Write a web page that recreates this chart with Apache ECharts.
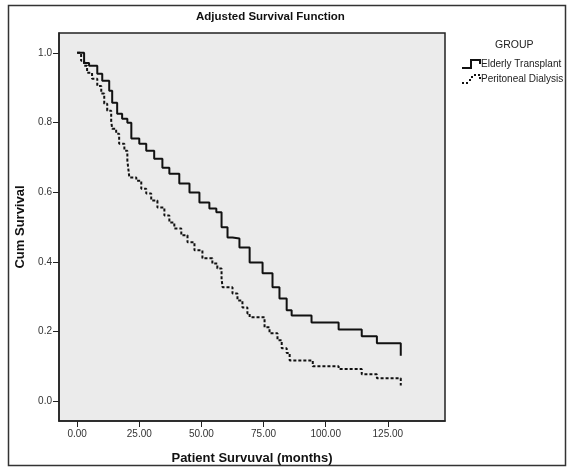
<!DOCTYPE html>
<html>
<head>
<meta charset="utf-8">
<script src="https://cdn.jsdelivr.net/npm/echarts@6/dist/echarts.min.js"></script>
<style>
  html, body { margin: 0; padding: 0; background: #fff; }
  #main { width: 571px; height: 471px; }
</style>
</head>
<body>
<div id="main"></div>
<script>
// Adjusted survival
var elderlyMonths = [0, 2.8, 4.8, 8.1, 10.1, 12.9, 14.1, 16.1, 18.1, 20.2, 21.8, 25.0, 27.8, 31.0, 34.3, 37.1, 41.1, 45.2, 49.2, 53.2, 56.0, 58.1, 60.5, 62.5, 65.3, 69.4, 74.6, 78.6, 81.4, 84.3, 86.3, 94.3, 105.2, 114.5, 120.6, 130.2, 130.2];
var elderlySurv = [1.0, 0.971, 0.963, 0.940, 0.920, 0.891, 0.857, 0.825, 0.811, 0.799, 0.754, 0.739, 0.719, 0.696, 0.670, 0.653, 0.625, 0.599, 0.570, 0.553, 0.542, 0.499, 0.470, 0.467, 0.441, 0.398, 0.367, 0.327, 0.295, 0.261, 0.246, 0.226, 0.206, 0.186, 0.166, 0.166, 0.130];

var dialysisMonths = [0, 1.6, 2.8, 4.0, 6.0, 8.1, 9.7, 10.9, 12.1, 13.7, 14.1, 15.7, 16.9, 19.0, 20.2, 21.0, 23.8, 25.8, 27.8, 29.8, 32.3, 35.1, 37.1, 39.1, 41.9, 44.4, 47.2, 50.4, 54.4, 56.4, 58.1, 58.5, 62.5, 64.5, 66.5, 68.5, 69.4, 75.4, 77.4, 80.6, 82.3, 84.3, 85.5, 94.8, 105.2, 114.5, 120.6, 130.2, 130.2];
var dialysisSurv = [1.0, 0.977, 0.963, 0.943, 0.926, 0.905, 0.883, 0.854, 0.834, 0.805, 0.782, 0.768, 0.739, 0.719, 0.691, 0.642, 0.633, 0.610, 0.596, 0.576, 0.556, 0.533, 0.513, 0.496, 0.476, 0.456, 0.433, 0.410, 0.395, 0.381, 0.352, 0.327, 0.309, 0.289, 0.269, 0.252, 0.241, 0.212, 0.195, 0.175, 0.152, 0.138, 0.117, 0.100, 0.092, 0.077, 0.066, 0.063, 0.045];

var xTicks = [0, 25, 50, 75, 100, 125];
var yTicks = [0, 0.2, 0.4, 0.6, 0.8, 1.0];
var groupNames = ['Elderly Transplant', 'Peritoneal Dialysis'];

function zip(xs, ys) {
  var out = [];
  for (var i = 0; i < xs.length; i++) out.push([xs[i], ys[i]]);
  return out;
}

var myChart = echarts.init(document.getElementById('main'));

var option = {
  backgroundColor: '#fff',
  animation: false,
  textStyle: { fontFamily: 'Liberation Sans, Arial, sans-serif' },
  title: [{
    text: 'Adjusted Survival Function',
    left: 196,
    top: 11,
    padding: 0,
    textStyle: { fontSize: 11.5, fontWeight: 'bold', color: '#111' }
  }, {
    text: 'GROUP',
    left: 495,
    top: 40,
    padding: 0,
    textStyle: { fontSize: 10.5, fontWeight: 'normal', color: '#222' }
  }],
  legend: {
    orient: 'vertical',
    left: 462,
    top: 59,
    padding: 0,
    itemWidth: 19,
    itemHeight: 10,
    itemGap: 5,
    textStyle: { fontSize: 10, color: '#222', padding: [0, 0, 0, -5] },
    itemStyle: { borderWidth: 0 },
    data: [
      { name: groupNames[0], icon: 'path://M0,8 L8,8 L8,0 L19,0 L19,5 L17,5 L17,2 L10,2 L10,10 L0,10 Z' },
      { name: groupNames[1], icon: 'path://M0,8h2v2h-2z M4,8h2v2h-2z M7,5h2v2h-2z M9,2h2v2h-2z M12,0h2v2h-2z M16,0h2v2h-2z M17,3h2v2h-2z' }
    ]
  },
  grid: {
    left: 59,
    top: 33,
    right: 126,
    bottom: 50,
    show: true,
    backgroundColor: '#ebebeb',
    borderColor: '#222',
    borderWidth: 1.5
  },
  xAxis: {
    type: 'value',
    min: -7.3,
    max: 148,
    name: 'Patient Survuval (months)',
    nameLocation: 'middle',
    nameGap: 31,
    nameTextStyle: { fontSize: 13, fontWeight: 'bold', color: '#111' },
    axisLine: { onZero: false, lineStyle: { color: '#222', width: 1.5 } },
    axisTick: { customValues: xTicks, length: 6, lineStyle: { color: '#222' } },
    axisLabel: {
      customValues: xTicks,
      fontSize: 10,
      color: '#333',
      margin: 8,
      formatter: function (v) { return v.toFixed(2); }
    },
    splitLine: { show: false }
  },
  yAxis: {
    type: 'value',
    min: -0.057,
    max: 1.057,
    name: 'Cum Survival',
    nameLocation: 'middle',
    nameGap: 26,
    nameTextStyle: { fontSize: 13, fontWeight: 'bold', color: '#111' },
    axisLine: { onZero: false, lineStyle: { color: '#222', width: 1.5 } },
    axisTick: { customValues: yTicks, length: 6, lineStyle: { color: '#222' } },
    axisLabel: {
      customValues: yTicks,
      fontSize: 10,
      color: '#333',
      margin: 7,
      formatter: function (v) { return v.toFixed(1); }
    },
    splitLine: { show: false }
  },
  graphic: [{
    type: 'rect',
    z: -1,
    silent: true,
    shape: { x: 8.5, y: 5.5, width: 557, height: 460 },
    style: { fill: 'none', stroke: '#333', lineWidth: 1.5 }
  }],
  series: [{
    name: groupNames[0],
    type: 'line',
    step: 'end',
    showSymbol: false,
    symbol: 'none',
    color: '#111',
    lineStyle: { color: '#111', width: 2 },
    data: zip(elderlyMonths, elderlySurv)
  }, {
    name: groupNames[1],
    type: 'line',
    step: 'end',
    showSymbol: false,
    symbol: 'none',
    color: '#111',
    lineStyle: { color: '#111', width: 2, type: [3, 2] },
    data: zip(dialysisMonths, dialysisSurv)
  }]
};

myChart.setOption(option);
</script>
</body>
</html>
